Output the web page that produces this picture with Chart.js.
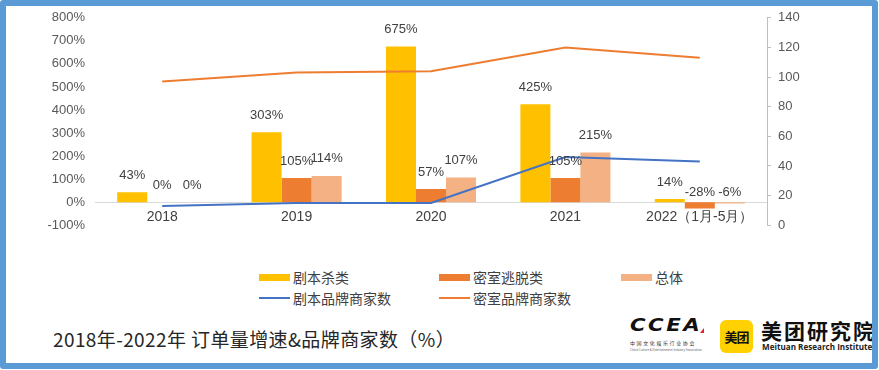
<!DOCTYPE html>
<html>
<head>
<meta charset="utf-8">
<script src="https://cdn.jsdelivr.net/npm/chart.js@4.4.0/dist/chart.umd.min.js"></script>
<style>
  html, body { margin: 0; padding: 0; background: #fff; }
  #wrap { position: relative; width: 879px; height: 370px; background: #fff; overflow: hidden; font-family: "Noto Sans CJK SC", "Noto Sans", sans-serif; }
  #c { position: absolute; left: 0; top: 0; }
  .lg-item { position: absolute; height: 20px; display: flex; align-items: center; font-size: 14px; color: #404040; white-space: nowrap; }
  .lg-swatch { width: 31px; margin-right: 3px; }
  #title { position: absolute; left: 53px; top: 326px; font-size: 19px; color: #262626; white-space: nowrap; line-height: 26px; letter-spacing: 0.4px; }
  #frame { position: absolute; left: 0; top: 0; width: 878px; height: 369px; box-sizing: border-box; border: 6px solid #5B9BD5; border-radius: 3px; z-index: 10; pointer-events: none; }
  #ccea { position: absolute; left: 630px; top: 316px; width: 78px; }
  #ccea .mark { font-family: "DejaVu Sans", sans-serif; font-weight: 900; font-style: italic; font-size: 17px; line-height: 18px; color: #111; letter-spacing: 2px; transform: scaleX(1.25); transform-origin: left center; position: relative; }
  #ccea .tri { position: absolute; left: 70px; top: 12px; width: 0; height: 0; border-left: 4px solid transparent; border-right: 0 solid transparent; border-bottom: 5px solid #e0202a; }
  #ccea .cn { font-size: 5px; line-height: 6px; color: #333; letter-spacing: 1.6px; margin-top: 6px; white-space: nowrap; }
  #ccea .en { font-size: 3px; line-height: 4px; color: #666; white-space: nowrap; margin-top: 2px; }
  #mtbox { position: absolute; left: 720px; top: 320px; width: 33px; height: 33px; background: #FFD100; border-radius: 6px; display: flex; align-items: center; justify-content: center; font-size: 13px; font-weight: 700; color: #111; letter-spacing: -1px; }
  #mtname { position: absolute; left: 761px; top: 317px; font-size: 21px; font-weight: 700; color: #111; line-height: 26px; white-space: nowrap; letter-spacing: 2px; }
  #mten { position: absolute; left: 762px; top: 341px; font-family: "Open Sans", "Noto Sans", sans-serif; font-size: 9.5px; font-weight: 700; color: #222; line-height: 12px; white-space: nowrap; transform-origin: left center; }
</style>
</head>
<body>
<div id="wrap">
  <canvas id="c" width="879" height="243" style="width:879px;height:243px"></canvas>
  <div id="legend"></div>
  <div id="title">2018年-2022年 订单量增速&amp;品牌商家数（%）</div>
  <div id="ccea">
    <div class="mark">CCEA</div>
    <div class="tri"></div>
    <div class="cn">中国文化娱乐行业协会</div>
    <div class="en">China Culture &amp; Entertainment Industry Association</div>
  </div>
  <div id="mtbox">美团</div>
  <div id="mtname">美团研究院</div>
  <div id="mten">Meituan Research Institute</div>
  <div id="frame"></div>
</div>
<script>
// ---- data ----
const categories = ['2018', '2019', '2020', '2021', '2022（1月-5月）'];
const scriptKillGrowth = [43, 303, 675, 425, 14];     // 剧本杀类 (%)
const escapeRoomGrowth = [0, 105, 57, 105, -28];      // 密室逃脱类 (%)
const totalGrowth = [0, 114, 107, 215, -6];           // 总体 (%)
const scriptBrandCount = [13, 15, 15, 46, 43];        // 剧本品牌商家数
const escapeBrandCount = [97, 103, 104, 120, 113];    // 密室品牌商家数
const leftTickRange = [-100, 800, 100];
const rightTickRange = [0, 140, 20];

const seriesNames = ['剧本杀类', '密室逃脱类', '总体', '剧本品牌商家数', '密室品牌商家数'];
const seriesColors = ['#FFC000', '#ED7D31', '#F4B183', '#4472C4', '#ED7D31'];

const barLabelPlugin = {
  id: 'barLabels',
  afterDatasetsDraw(chart) {
    const ctx = chart.ctx;
    ctx.save();
    ctx.font = '13px "Liberation Sans", Arial, sans-serif';
    ctx.fillStyle = '#404040';
    ctx.textAlign = 'center';
    ctx.textBaseline = 'middle';
    chart.data.datasets.forEach((ds, i) => {
      if (ds.type !== 'bar') return;
      const meta = chart.getDatasetMeta(i);
      meta.data.forEach((el, j) => {
        const v = ds.data[j];
        const y = v >= 0 ? el.y - 17 : el.base - 10;
        ctx.fillText(v + '%', el.x, y);
      });
    });
    ctx.restore();
  }
};

const chart = new Chart(document.getElementById('c'), {
  data: {
    labels: categories,
    datasets: [
      { type: 'line', label: seriesNames[3], data: scriptBrandCount, yAxisID: 'y1', borderColor: seriesColors[3], backgroundColor: seriesColors[3], borderWidth: 2, pointRadius: 0, tension: 0, order: 0 },
      { type: 'line', label: seriesNames[4], data: escapeBrandCount, yAxisID: 'y1', borderColor: seriesColors[4], backgroundColor: seriesColors[4], borderWidth: 2, pointRadius: 0, tension: 0, order: 0 },
      { type: 'bar', label: seriesNames[0], data: scriptKillGrowth, yAxisID: 'y', backgroundColor: seriesColors[0], order: 1 },
      { type: 'bar', label: seriesNames[1], data: escapeRoomGrowth, yAxisID: 'y', backgroundColor: seriesColors[1], order: 1 },
      { type: 'bar', label: seriesNames[2], data: totalGrowth, yAxisID: 'y', backgroundColor: seriesColors[2], order: 1 }
    ]
  },
  options: {
    responsive: false,
    animation: false,
    devicePixelRatio: 1,
    layout: { padding: { top: 15, bottom: 0, left: 0, right: 0 } },
    datasets: { bar: { barPercentage: 1, categoryPercentage: 0.67 } },
    plugins: { legend: { display: false }, tooltip: { enabled: false }, title: { display: false } },
    scales: {
      x: {
        type: 'category',
        position: { y: 0 },
        grid: { display: false, drawTicks: false },
        border: { display: true, color: '#D9D9D9', width: 1 },
        ticks: { padding: 7, color: '#404040', font: { size: 14, family: '"Liberation Sans", Arial, sans-serif' }, maxRotation: 0, autoSkip: false }
      },
      y: {
        position: 'left',
        min: leftTickRange[0], max: leftTickRange[1],
        grid: { display: false, drawTicks: false },
        border: { display: false },
        ticks: { stepSize: leftTickRange[2], padding: 10, color: '#595959', font: { size: 13, family: '"Liberation Sans", Arial, sans-serif' }, callback: v => v + '%' },
        afterFit(s) { s.width = 95; }
      },
      y1: {
        position: 'right',
        min: rightTickRange[0], max: rightTickRange[1],
        grid: { display: true, drawOnChartArea: false, drawTicks: true, tickLength: 4, color: '#BFBFBF' },
        border: { display: true, color: '#BFBFBF', width: 1 },
        ticks: { stepSize: rightTickRange[2], padding: 7, color: '#595959', font: { size: 13, family: '"Liberation Sans", Arial, sans-serif' } },
        afterFit(s) { s.width = 112; }
      }
    }
  },
  plugins: [barLabelPlugin]
});

// ---- HTML legend built from the chart's datasets ----
const legendSlots = [
  { name: seriesNames[0], x: 259, y: 267, kind: 'box' },
  { name: seriesNames[1], x: 439, y: 267, kind: 'box' },
  { name: seriesNames[2], x: 621, y: 267, kind: 'box' },
  { name: seriesNames[3], x: 259, y: 288, kind: 'line' },
  { name: seriesNames[4], x: 439, y: 288, kind: 'line' }
];
const lg = document.getElementById('legend');
legendSlots.forEach(s => {
  const ds = chart.data.datasets.find(d => d.label === s.name);
  const color = ds.type === 'bar' ? ds.backgroundColor : ds.borderColor;
  const item = document.createElement('div');
  item.className = 'lg-item';
  item.style.left = s.x + 'px';
  item.style.top = s.y + 'px';
  const sw = document.createElement('span');
  sw.className = 'lg-swatch';
  sw.style.background = color;
  sw.style.height = s.kind === 'box' ? '7px' : '2.5px';
  const tx = document.createElement('span');
  tx.textContent = s.name;
  item.appendChild(sw);
  item.appendChild(tx);
  lg.appendChild(item);
});

// fit the English institute name to its logo width
const en = document.getElementById('mten');
en.style.transform = 'scaleX(' + (110 / en.scrollWidth) + ')';
</script>
</body>
</html>
